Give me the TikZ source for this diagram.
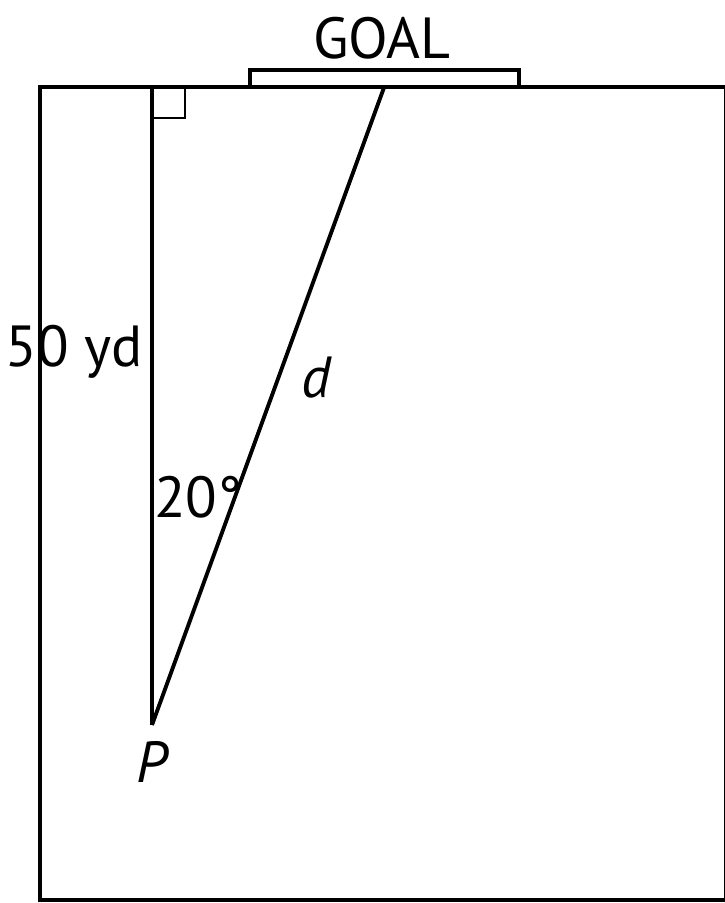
\documentclass[tikz,border=0pt]{standalone}
\usepackage{fontspec}
\setmainfont{PT Sans}
\usetikzlibrary{calc, positioning}

\begin{document}
\begin{tikzpicture}[x=0.02cm, y=-0.02cm, line width=2.2pt, font=\fontsize{33}{38}\selectfont]
        \def\Ang{20}
        \def\Dist{638}
        \pgfmathsetmacro{\Gx}{152 + \Dist*tan(\Ang)}

        \useasboundingbox (0,0) rectangle (724,903);

        \coordinate (TL) at (40,87);
        \coordinate (BR) at (726,900);
        \coordinate (F) at (152,87);
        \coordinate (P) at (152,725);
        \coordinate (G) at (\Gx,87);

        % field and goal
        \draw (TL) rectangle (BR);
        \draw (250,87) rectangle (519,70);
        \node (goal) at (382,38) {GOAL};

        % triangle
        \draw (F) -- (P) node[pos=0.415, left=1pt] (yd) {50 yd};
        \draw (P) -- (G) node[pos=0.544, right=0.3cm] (d) {\itshape d};
        \draw[line width=1.3pt] ($(F)+(0,31)$) -| ($(F)+(33,0)$);

        \node (ang) at (198,497) {20°};
        \node[below=0.18cm of P] (plabel) {\itshape P};
    \end{tikzpicture}
\end{document}
